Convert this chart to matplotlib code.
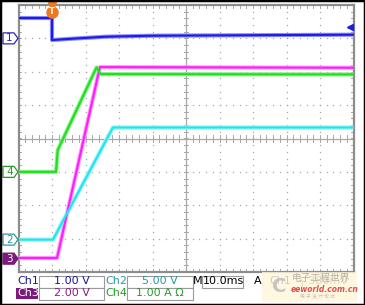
import numpy as np
import matplotlib
matplotlib.use("Agg")
from matplotlib import pyplot as plt
from matplotlib.patches import Rectangle, Polygon

plt.rcParams['font.family'] = ['DejaVu Sans', 'Noto Sans CJK SC']

# traces, in screen divisions (x: 0..10, y: -4..4)
ch1_x = [0, 1.0, 1.0, 1.6, 2.6, 4.0, 10]
ch1_y = [3.61, 3.61, 2.95, 2.99, 3.05, 3.08, 3.11]
ch2_x = [0, 1.03, 2.82, 10]
ch2_y = [-3.03, -3.03, 0.33, 0.33]
ch3_x = [0, 1.15, 2.43, 10]
ch3_y = [-3.58, -3.58, 2.14, 2.12]
ch4_x = [0, 1.12, 1.17, 2.33, 2.45, 10]
ch4_y = [-1.0, -1.0, -0.35, 2.13, 1.93, 1.92]

# channel ground markers and settings
markers = [('1', 3.0), ('4', -1.0), ('2', -3.03), ('3', -3.6)]
row1 = [('Ch1', '1.00 V'), ('Ch2', '5.00 V')]
row2 = [('Ch3', '2.00 V'), ('Ch4', '1.00 A Ω')]
timebase = '10.0ms'
trig_pos = 1.0
trig_level = 3.34

W, H = 365, 305
fig = plt.figure(figsize=(W / 100, H / 100), dpi=100)
fig.patch.set_facecolor('white')
L, R, T, B = 18.5, 353.5, 5, 272
ax = fig.add_axes([L / W, 1 - B / H, (R - L) / W, (B - T) / H])
ax.set_xlim(0, 10)
ax.set_ylim(-4, 4)
ax.set_xticks([])
ax.set_yticks([])
for s in ax.spines.values():
    s.set_color('#8c8c8c')
    s.set_linewidth(1.6)

grid_c = '#a8a8a8'
# dotted grid
fine = np.arange(0, 10.01, 0.2)
fine_y = np.arange(-4, 4.01, 0.2)
for gx in range(1, 10):
    if gx == 5:
        continue
    ax.plot([gx] * len(fine_y), fine_y, ls='none', marker='s', ms=0.9, color=grid_c, mew=0)
for gy in range(-3, 4):
    if gy == 0:
        continue
    ax.plot(fine, [gy] * len(fine), ls='none', marker='s', ms=0.9, color=grid_c, mew=0)
# center cross with ticks
ax.axvline(5, color=grid_c, lw=0.9)
ax.axhline(0, color=grid_c, lw=0.9)
for v in fine:
    ax.plot([v, v], [-0.09, 0.09], color=grid_c, lw=0.7)
    ax.plot([v, v], [-4, -3.9], color=grid_c, lw=0.7)
    ax.plot([v, v], [4, 3.9], color=grid_c, lw=0.7)
for v in fine_y:
    ax.plot([4.93, 5.07], [v, v], color=grid_c, lw=0.7)
    ax.plot([0, 0.08], [v, v], color=grid_c, lw=0.7)
    ax.plot([9.92, 10], [v, v], color=grid_c, lw=0.7)

traces = [
    (ch1_x, ch1_y, '#1c1ce6', '#8a8aff'),
    (ch3_x, ch3_y, '#ff1cff', '#ff9cff'),
    (ch4_x, ch4_y, '#1ee01e', '#90f090'),
    (ch2_x, ch2_y, '#1ee6f0', '#9af4f8'),
]
for x, y, c, halo in traces:
    ax.plot(x, y, color=halo, lw=3.0, solid_capstyle='butt', zorder=3)
    ax.plot(x, y, color=c, lw=1.5, zorder=4)

# trigger marker at top and level arrow at right
ax.plot([trig_pos], [3.8], marker='o', ms=8, color='#f07820', zorder=6, clip_on=False)
ax.plot([trig_pos], [3.98], marker='v', ms=6, color='#f07820', zorder=6, clip_on=False)
ax.text(trig_pos, 3.8, 'T', color='white', fontsize=6, fontweight='bold',
        ha='center', va='center', zorder=7)
ax.plot([9.9], [trig_level], marker='<', ms=5, color='#1c1ce6', zorder=6, clip_on=False)

# channel markers on the left
mk_style = {
    '1': ('white', '#2a2ab0', '#2a2ab0'),
    '4': ('white', '#2a9a2a', '#2a9a2a'),
    '2': ('white', '#2a9a9a', '#2a9a9a'),
    '3': ('#7a1a7a', '#7a1a7a', 'white'),
}
for lab, yv in markers:
    fc, ec, tc = mk_style[lab]
    yp = B - (yv + 4) / 8 * (B - T)
    pts = [(3, yp - 5.5), (14, yp - 5.5), (18, yp), (14, yp + 5.5), (3, yp + 5.5)]
    pts = [(px / W, 1 - py / H) for px, py in pts]
    fig.patches.append(Polygon(pts, closed=True, fc=fc, ec=ec, lw=0.9,
                               transform=fig.transFigure))
    fig.text(9.5 / W, 1 - yp / H, lab, color=tc, fontsize=7.5, ha='center', va='center')

# bottom status text
def fx(px):
    return px / W

def fy(py):
    return 1 - py / H

def box(x0, x1, y0, y1, ec='#9a9a9a'):
    fig.patches.append(Rectangle((fx(x0), fy(y1)), fx(x1) - fx(x0), fy(y0) - fy(y1),
                                 fc='white', ec=ec, lw=0.8, transform=fig.transFigure))

lab_colors = {'Ch1': '#1a1a90', 'Ch2': '#2a9a9a', 'Ch3': 'white', 'Ch4': '#2a9a2a'}
val_colors = {'Ch1': '#1a1a90', 'Ch2': '#2a9a9a', 'Ch3': '#8a1a8a', 'Ch4': '#2a9a2a'}
col_x = [(17, 39, 104), (105, 127, 193)]
for row, yc in [(row1, 281.5), (row2, 293.5)]:
    for (lx, bx0, bx1), (ch, val) in zip(col_x, row):
        if ch == 'Ch3':
            fig.patches.append(Rectangle((fx(lx - 1), fy(yc + 5.5)), 22 / W, 11 / H,
                                         fc='#7a1a7a', ec='none', transform=fig.transFigure))
        fig.text(fx(lx), fy(yc), ch, color=lab_colors[ch], fontsize=8, va='center')
        box(bx0, bx1, yc - 6, yc + 6)
        fig.text(fx((bx0 + bx1) / 2), fy(yc), val, color=val_colors[ch], fontsize=8,
                 ha='center', va='center')

fig.text(fx(193), fy(281.5), 'M', color='black', fontsize=8, va='center')
box(202, 243, 275.5, 287.5)
fig.text(fx(203), fy(281.5), timebase, color='black', fontsize=8, va='center')
fig.text(fx(254), fy(281.5), 'A', color='black', fontsize=8, va='center')
fig.text(fx(269), fy(281.5), 'Ch1', color='#1a1a90', fontsize=8, va='center')
fig.text(fx(298), fy(281.5), '\u2510 380mV', color='#555555', fontsize=8, va='center')

# watermark overlay
fig.patches.append(Rectangle((fx(262), fy(302)), 95 / W, 30 / H, fc='#fff6d8', ec='none',
                             alpha=0.8, transform=fig.transFigure, zorder=5))
fig.text(fx(272), fy(286), 'C', color='#c4c4c4', fontsize=14, fontweight='bold',
         va='center', zorder=6)
fig.text(fx(292), fy(278), '电子工程世界', color='#b8b0a8', fontsize=7,
         family=['Noto Sans CJK SC'], va='center', zorder=6)
fig.text(fx(291), fy(289), 'eeworld.com.cn', color='#e05050', fontsize=5.5,
         style='italic', fontweight='bold', va='center', zorder=6)
fig.text(fx(300), fy(297), '电 子 设 计 论 坛', color='#c8c0b8', fontsize=3.5,
         family=['Noto Sans CJK SC'], va='center', zorder=6)

# black outer frame
fig.patches.append(Rectangle((0, 0), 1, 1, fc='none', ec='black', lw=2.5,
                             transform=fig.transFigure, zorder=10))

fig.savefig('out.png', dpi=100)
